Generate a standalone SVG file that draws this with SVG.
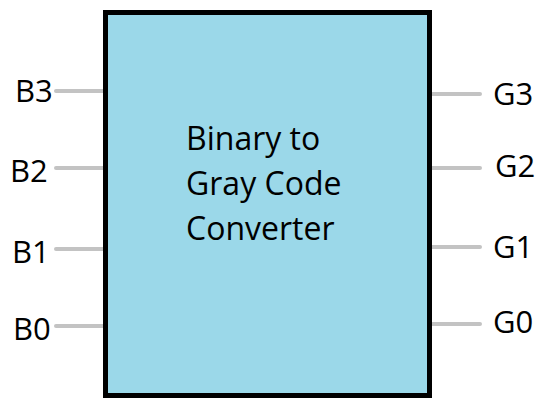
<svg xmlns="http://www.w3.org/2000/svg" width="560" height="420" viewBox="0 0 560 420">
<style>
.lbl{font-family:"Open Sans","Noto Sans",sans-serif;font-size:31px;fill:#000}
.main{font-size:32px}
.wire{stroke:#c3c3c3;stroke-width:4;stroke-linecap:round;fill:none}
</style>
<rect width="560" height="420" fill="#fff"/>
<g id="connectors">
<line class="wire" x1="56" y1="91" x2="106" y2="91"/>
<line class="wire" x1="56" y1="168" x2="106" y2="168"/>
<line class="wire" x1="56" y1="249" x2="106" y2="249"/>
<line class="wire" x1="56" y1="326" x2="106" y2="326"/>
<line class="wire" x1="429" y1="94" x2="480" y2="94"/>
<line class="wire" x1="429" y1="168" x2="480" y2="168"/>
<line class="wire" x1="429" y1="247" x2="480" y2="247"/>
<line class="wire" x1="429" y1="324" x2="480" y2="324"/>
</g>
<g id="converter">
<rect x="105.5" y="12.5" width="324" height="383" fill="#9bd8e9" stroke="#000" stroke-width="5"/>
<text class="lbl main" x="186" y="150">Binary to</text>
<text class="lbl main" x="186" y="195">Gray Code</text>
<text class="lbl main" x="186" y="240">Converter</text>
</g>
<g id="B3"><text class="lbl" x="15" y="102">B3</text></g>
<g id="B2"><text class="lbl" x="10" y="182">B2</text></g>
<g id="B1"><text class="lbl" x="12" y="263">B1</text></g>
<g id="B0"><text class="lbl" x="13" y="340">B0</text></g>
<g id="G3"><text class="lbl" x="493" y="105">G3</text></g>
<g id="G2"><text class="lbl" x="495" y="177">G2</text></g>
<g id="G1"><text class="lbl" x="493" y="258">G1</text></g>
<g id="G0"><text class="lbl" x="493" y="333">G0</text></g>
</svg>
